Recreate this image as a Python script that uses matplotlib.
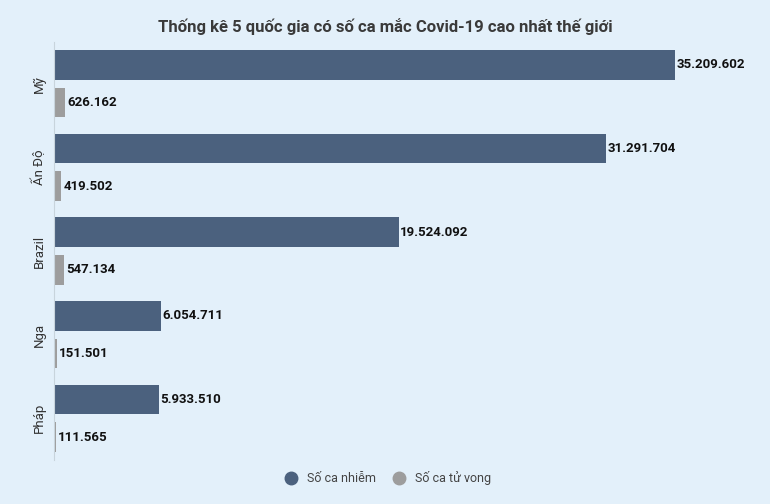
import matplotlib.pyplot as plt
from matplotlib.lines import Line2D
import numpy as np

plt.rcParams['font.family'] = ['Roboto', 'DejaVu Sans']

countries = ['Mỹ', 'Ấn Độ', 'Brazil', 'Nga', 'Pháp']
cases = [35209602, 31291704, 19524092, 6054711, 5933510]
deaths = [626162, 419502, 547134, 151501, 111565]
series_names = ['Số ca nhiễm', 'Số ca tử vong']

bg = '#e3f0fa'
c_cases = '#4b617e'
c_deaths = '#9d9d9d'

def fmt(v):
    return f'{v:,}'.replace(',', '.')

fig = plt.figure(figsize=(7.7, 5.04), dpi=100, facecolor=bg)
ax = fig.add_axes([54/770, 1 - 460/504, 706/770, 418/504])
ax.set_facecolor(bg)

y = np.arange(len(countries))
h = 0.355
ax.barh(y - 0.225, cases, height=h, color=c_cases)
ax.barh(y + 0.225, deaths, height=h, color=c_deaths)

for yi, v in zip(y, cases):
    ax.text(v + 60000, yi - 0.225, fmt(v), va='center', ha='left',
            fontsize=9.5, fontweight='bold', color='#111111')
for yi, v in zip(y, deaths):
    ax.text(v + 120000, yi + 0.225, fmt(v), va='center', ha='left',
            fontsize=9.5, fontweight='bold', color='#111111')

ax.set_xlim(0, 40000000)
ax.set_ylim(len(countries) - 0.5, -0.5)
ax.set_yticks(y)
ax.set_yticklabels(countries, rotation=90, va='center', fontsize=9.5, color='#333333')
ax.tick_params(axis='y', length=0, pad=6)
ax.set_xticks([])
for s in ['top', 'right', 'bottom']:
    ax.spines[s].set_visible(False)
ax.spines['left'].set_color('#c8d4dc')

fig.text(0.5, 1 - 27/504, 'Thống kê 5 quốc gia có số ca mắc Covid-19 cao nhất thế giới',
         ha='center', va='center', fontsize=12, fontweight='bold', color='#3a3a3a')

handles = [Line2D([], [], marker='o', linestyle='', markersize=9, color=c_cases),
           Line2D([], [], marker='o', linestyle='', markersize=9, color=c_deaths)]
fig.legend(handles, series_names, loc='center', bbox_to_anchor=(0.5, 1 - 478/504),
           ncol=2, frameon=False, fontsize=9, handletextpad=0.3, columnspacing=0.8,
           labelcolor='#444444')

fig.savefig('out.png', dpi=100, facecolor=bg)
